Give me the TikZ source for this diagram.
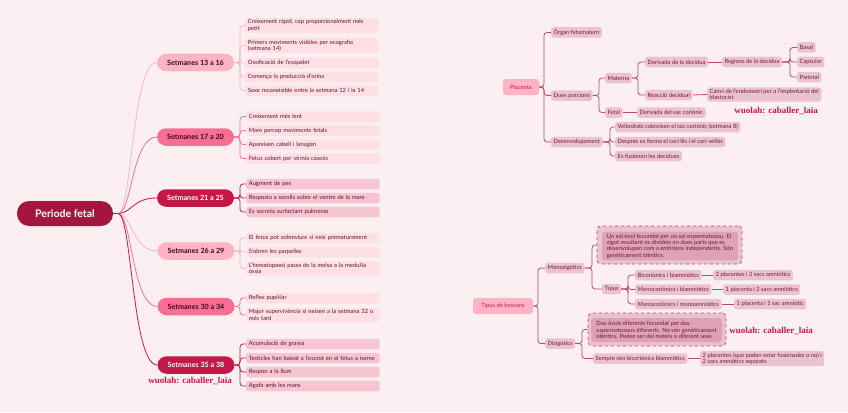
\documentclass[tikz,border=0pt]{standalone}
\usepackage{fontspec}
\setmainfont{Lato}
\newfontfamily\wmfont{Liberation Serif}
\usetikzlibrary{calc}
\definecolor{bg}{HTML}{FCEFF2}
\definecolor{rootc}{HTML}{A3173F}
\definecolor{wkA}{HTML}{FFB3C5}
\definecolor{wkB}{HTML}{FB6E93}
\definecolor{wkC}{HTML}{C41848}
\definecolor{leafA}{HTML}{FFDFE6}
\definecolor{leafB}{HTML}{F5C5D2}
\definecolor{ltxt}{HTML}{5E1229}
\definecolor{dtxt}{HTML}{3A0A18}
\definecolor{rfill}{HTML}{EBC3CE}
\definecolor{rtxt}{HTML}{701935}
\definecolor{rline}{HTML}{B84A6E}
\definecolor{dashc}{HTML}{C0466C}
\definecolor{dfill}{HTML}{DDA2B4}
\definecolor{wm}{HTML}{C41848}
\tikzset{
  smallf/.style={font=\fontsize{5.8}{6.4}\selectfont},
  leaf/.style={smallf, rounded corners=2.5pt, anchor=west, text width=128pt, inner xsep=2.7pt, inner ysep=1.6pt, minimum height=10.5pt, align=left, text=ltxt},
  leafa/.style={leaf, fill=leafA},
  leafb/.style={leaf, fill=leafB},
  week/.style={rounded corners=9pt, minimum width=77pt, minimum height=17.5pt, inner sep=0pt, font=\fontsize{7.2}{8}\selectfont\bfseries},
  rbox/.style={smallf, fill=rfill, text=rtxt, rounded corners=2.5pt, anchor=west, inner xsep=2.5pt, inner ysep=1.6pt, minimum height=10.5pt, align=left},
  rhead/.style={smallf, fill=wkA, text=wkC, rounded corners=3pt, minimum height=16pt, inner sep=0pt},
  dinner/.style={smallf, fill=dfill, text=rtxt, rounded corners=3pt, align=left, inner xsep=3pt, inner ysep=2pt},
  douter/.style={draw=dashc, dashed, line width=0.8pt, fill=rfill, rounded corners=4pt, inner sep=0pt},
  rl/.style={draw=rline, line width=0.8pt, rounded corners=3pt},
  watermark/.style={text=wm, font=\wmfont\bfseries\fontsize{9}{10}\selectfont}
}
\begin{document}
\begin{tikzpicture}[x=1pt,y=-1pt]
\fill[bg] (0,0) rectangle (848,412);
\useasboundingbox (0,0) rectangle (848,412);

% ---------- left: root ----------
\node[fill=rootc, text=white, rounded corners=12pt, minimum width=96pt, minimum height=25pt, inner sep=0pt, font=\fontsize{10.5}{12}\selectfont\bfseries] (root) at (65,213.5) {Periode fetal};
\coordinate (rj) at (118,213.5);

\node[week, fill=wkA, text=dtxt] (s1) at (195.5,62.5) {Setmanes 13 a 16};
\node[week, fill=wkB, text=dtxt] (s2) at (195.5,137) {Setmanes 17 a 20};
\node[week, fill=wkC, text=white] (s3) at (195.5,198) {Setmanes 21 a 25};
\node[week, fill=wkA, text=dtxt] (s4) at (196,251) {Setmanes 26 a 29};
\node[week, fill=wkB, text=dtxt] (s5) at (196,306.5) {Setmanes 30 a 34};
\node[week, fill=wkC, text=white] (s6) at (196,365) {Setmanes 35 a 38};

\draw[rootc, line width=0.8pt] (root.east) -- (rj);
\foreach \n/\c in {s1/wkA,s2/wkB,s3/wkC,s4/wkA,s5/wkB,s6/wkC}{
  \draw[\c, line width=0.8pt] (rj) .. controls ($(rj)+(14,0)$) and ($(rj|-\n.west)+(14,0)$) .. (\n.west);
}

% leaves
\coordinate (lb) at (240,0);
\node[leafa] (a1) at (245,25.5) {Creixement ràpid, cap proporcionalment més\\petit};
\node[leafa] (a2) at (245,45.5) {Primers moviments visibles per ecografia\\(setmana 14)};
\node[leafa] (a3) at (245,63) {Ossificació de l'esquelet};
\node[leafa] (a4) at (245,77) {Comença la producció d'orina};
\node[leafa] (a5) at (245,90.5) {Sexe reconeixible entre la setmana 12 i la 14};
\foreach \l in {a1,a2,a3,a4,a5}{\draw[wkA, line width=0.8pt, rounded corners=3pt] (s1.east) -- (s1.east-|lb) |- (\l.west);}

\node[leafa] (b1) at (246,116.5) {Creixement més lent};
\node[leafa] (b2) at (246,130.5) {Mare percep moviments fetals};
\node[leafa] (b3) at (246,144.5) {Apareixen cabell i lanugen};
\node[leafa] (b4) at (246,158.5) {Fetus cobert per vèrnix caseós};
\foreach \l in {b1,b2,b3,b4}{\draw[wkB, line width=0.8pt, rounded corners=3pt] (s2.east) -- (s2.east-|lb) |- (\l.west);}

\node[leafb] (c1) at (246,184) {Augment de pes};
\node[leafb] (c2) at (246,198) {Resposta a sorolls sobre el ventre de la mare};
\node[leafb] (c3) at (246,212) {Es secreta surfactant pulmonar};
\foreach \l in {c1,c2,c3}{\draw[wkC, line width=0.8pt, rounded corners=3pt] (s3.east) -- (s3.east-|lb) |- (\l.west);}

\node[leafa] (d1) at (246,238) {El fetus pot sobreviure si neix prematurament};
\node[leafa] (d2) at (246,252) {S'obren les parpelles};
\node[leafa] (d3) at (246,268.5) {L'hematopoesi passa de la melsa a la medul·la\\òssia};
\foreach \l in {d1,d2,d3}{\draw[wkA, line width=0.8pt, rounded corners=3pt] (s4.east) -- (s4.east-|lb) |- (\l.west);}

\node[leafa] (e1) at (246,298) {Reflex pupil·lar};
\node[leafa] (e2) at (246,315) {Major supervivència si neixen a la setmana 32 o\\més tard};
\foreach \l in {e1,e2}{\draw[wkB, line width=0.8pt, rounded corners=3pt] (s5.east) -- (s5.east-|lb) |- (\l.west);}

\node[leafb] (f1) at (246,344) {Acumulació de grassa};
\node[leafb] (f2) at (246,358) {Testicles han baixat a l'escrot en el fetus a terme};
\node[leafb] (f3) at (246,372) {Respon a la llum};
\node[leafb] (f4) at (246,386) {Agafa amb les mans};
\foreach \l in {f1,f2,f3,f4}{\draw[wkC, line width=0.8pt, rounded corners=3pt] (s6.east) -- (s6.east-|lb) |- (\l.west);}

\node[watermark] (w1) at (190,381) {wuolah: caballer\_laia};

% ---------- right: Placenta ----------
\node[rhead, minimum width=36pt] (pl) at (521,87) {Placenta};
\node[rbox] (org) at (551,32.5) {Òrgan fetomatern};
\node[rbox] (dues) at (551,95.5) {Dues porcions};
\node[rbox] (des) at (551,142) {Desenvolupament};
\node[rbox] (mat) at (605,78) {Materna};
\node[rbox] (fet) at (605,112.5) {Fetal};
\node[rbox] (derd) at (645,62) {Derivada de la decidua};
\node[rbox] (reac) at (645,95) {Reacció decidual};
\node[rbox] (reg) at (722,62) {Regions de la decidua};
\node[rbox] (bas) at (797,47.5) {Basal};
\node[rbox] (cap) at (797,62) {Capsular};
\node[rbox] (par) at (797,77) {Parietal};
\node[rbox] (canvi) at (707,94.5) {Canvi de l'endometri per a l'implantació del\\blastocist};
\node[rbox] (dsac) at (637,112.5) {Derivada del sac coriònic};
\node[rbox] (vell) at (615,127) {Vellositats cobreixen el sac coriònic (setmana 8)};
\node[rbox] (desp) at (615,142) {Després es forma el corí llis i el corí vellós};
\node[rbox] (fus) at (615,156) {Es fusionen les decidues};

\coordinate (pb1) at (544,0);
\coordinate (pb2) at (599,0);
\coordinate (pb3) at (638,0);
\coordinate (pb4) at (790,0);
\coordinate (pb5) at (610,0);
\foreach \l in {org,dues,des}{\draw[rl] (pl.east) -- (pl.east-|pb1) |- (\l.west);}
\foreach \l in {mat,fet}{\draw[rl] (dues.east) -- (dues.east-|pb2) |- (\l.west);}
\foreach \l in {derd,reac}{\draw[rl] (mat.east) -- (mat.east-|pb3) |- (\l.west);}
\foreach \l in {bas,cap,par}{\draw[rl] (reg.east) -- (reg.east-|pb4) |- (\l.west);}
\foreach \l in {vell,desp,fus}{\draw[rl] (des.east) -- (des.east-|pb5) |- (\l.west);}
\draw[rl] (derd.east) -- (reg.west);
\draw[rl] (reac.east) -- (canvi.west);
\draw[rl] (fet.east) -- (dsac.west);

\node[watermark] (w2) at (776,111) {wuolah: caballer\_laia};

% ---------- right: Tipus de bessons ----------
\node[rhead, minimum width=60pt] (tb) at (503,306) {Tipus de bessons};
\node[rbox] (mono) at (545,268) {Monozigòtics};
\node[rbox] (diz) at (545,343.5) {Dizigòtics};
\node[douter, minimum width=145pt, minimum height=38pt] (monof) at (669.5,245) {};
\node[dinner, minimum width=136pt, minimum height=28pt] (monot) at (670,246) {Un sol òvul fecundat per un sol espermatozou. El\\zigot resultant es divideix en dues parts que es\\desenvolupen com a embrions independents. Són\\genèticament idèntics.};
\node[rbox] (tip) at (602,289) {Tipus};
\node[rbox] (bia) at (635,275) {Bicoriònics i biamniòtics};
\node[rbox] (mbi) at (635,289.5) {Monocoriònics i biamniòtics};
\node[rbox] (mmo) at (635,304) {Monocoriònics i monoamniòtics};
\node[rbox] (p22) at (713,275) {2 placentes i 2 sacs amniòtics};
\node[rbox] (p12) at (723,289.5) {1 placenta i 2 sacs amniòtics};
\node[rbox] (p11) at (734,304) {1 placenta i 1 sac amniòtic};
\node[douter, minimum width=138pt, minimum height=33pt] (dizf) at (657,329.5) {};
\node[dinner, minimum width=131pt, minimum height=24pt] (dizt) at (656.5,330) {Dos òvuls diferents fecundat per dos\\espermatozous diferents. No són genèticament\\idèntics. Poden ser del mateix o diferent sexe.};
\node[rbox] (semp) at (593,358.5) {Sempre són bicoriònics biamniòtics};
\node[rbox] (p2f) at (700,358.5) {2 placentes (que poden estar fusionades o no) i\\2 sacs amniòtics separats};

\coordinate (tb1) at (538,0);
\coordinate (tb2) at (592,0);
\coordinate (tb3) at (628,0);
\coordinate (tb4) at (582,0);
\foreach \l in {mono,diz}{\draw[rl] (tb.east) -- (tb.east-|tb1) |- (\l.west);}
\foreach \l in {monof,tip}{\draw[rl] (mono.east) -- (mono.east-|tb2) |- (\l.west);}
\foreach \l in {bia,mbi,mmo}{\draw[rl] (tip.east) -- (tip.east-|tb3) |- (\l.west);}
\foreach \l in {dizf,semp}{\draw[rl] (diz.east) -- (diz.east-|tb4) |- (\l.west);}
\draw[rl] (bia.east) -- (p22.west);
\draw[rl] (mbi.east) -- (p12.west);
\draw[rl] (mmo.east) -- (p11.west);
\draw[rl] (semp.east) -- (p2f.west);

\node[watermark] (w3) at (771,331) {wuolah: caballer\_laia};
\end{tikzpicture}
\end{document}
